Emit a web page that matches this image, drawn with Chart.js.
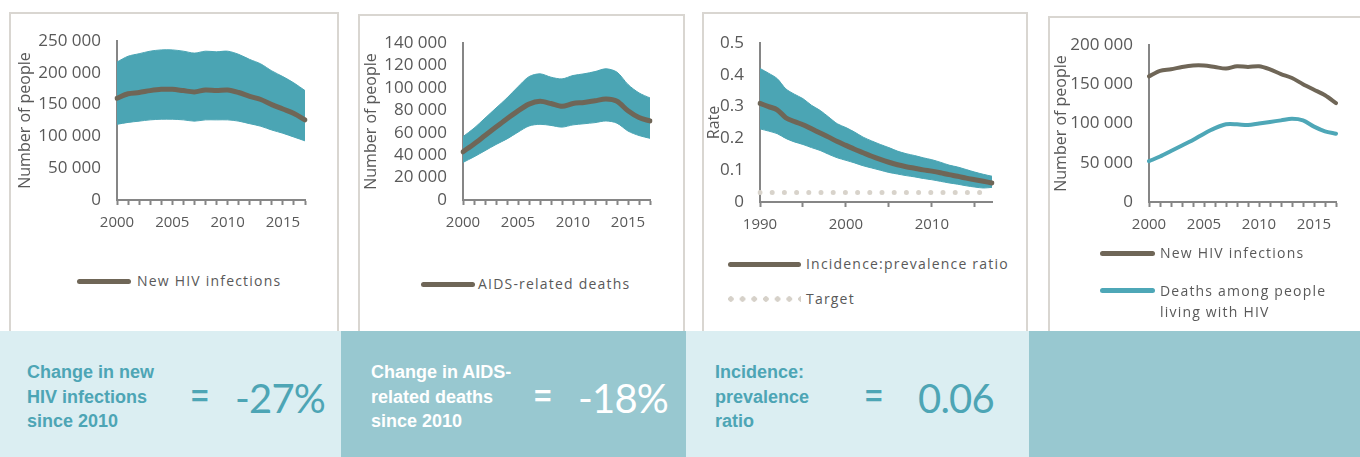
<!DOCTYPE html>
<html>
<head>
<meta charset="utf-8">
<script src="https://cdn.jsdelivr.net/npm/chart.js@4.4.0/dist/chart.umd.min.js"></script>
<style>
  body {
    margin: 0;
    width: 1360px;
    height: 457px;
    overflow: hidden;
    background: #fff;
    position: relative;
    font-family: "Open Sans", sans-serif;
  }
  .card {
    position: absolute;
    height: 340px;
    border: 2px solid #d9d6d1;
    box-sizing: border-box;
  }
  canvas.plot {
    position: absolute;
    top: 0;
  }
  .legend-item {
    position: absolute;
    display: flex;
    align-items: center;
    font-size: 14px;
    line-height: 18px;
    letter-spacing: 1.2px;
    color: #595959;
    white-space: nowrap;
  }
  .swatch {
    height: 5px;
    border-radius: 3px;
    flex: none;
  }
  .dots {
    height: 6px;
    flex: none;
    background-image: radial-gradient(circle, #d6d1c9 2.5px, transparent 3px);
    background-size: 11.7px 6px;
    background-position: -3px 0;
  }
  .strip {
    position: absolute;
    top: 331px;
    height: 126px;
  }
  .light { background: #dbeef2; color: #4da5b5; }
  .dark { background: #98c8d0; color: #fff; }
  .caption {
    position: absolute;
    top: 29px;
    font-family: "Liberation Sans", Arial, sans-serif;
    font-weight: bold;
    font-size: 18px;
    line-height: 24.5px;
    white-space: nowrap;
  }
  .equals {
    position: absolute;
    top: 50px;
    font-family: "Liberation Sans", Arial, sans-serif;
    font-weight: bold;
    font-size: 30px;
    line-height: 30px;
  }
  .figure {
    position: absolute;
    top: 45px;
    font-family: Lato, sans-serif;
    font-weight: 400;
    font-size: 40px;
    line-height: 44px;
    letter-spacing: -0.8px;
    white-space: nowrap;
  }
</style>
</head>
<body>

<div class="card" style="left:9px; top:12px; width:330px;"></div>
<div class="card" style="left:358px; top:14px; width:327px;"></div>
<div class="card" style="left:702px; top:12px; width:326px;"></div>
<div class="card" style="left:1048px; top:16px; width:330px;"></div>

<canvas id="chartInfections" class="plot" width="330" height="250" style="left:9px;"></canvas>
<canvas id="chartDeaths" class="plot" width="327" height="250" style="left:358px;"></canvas>
<canvas id="chartRatio" class="plot" width="326" height="250" style="left:702px;"></canvas>
<canvas id="chartCompare" class="plot" width="312" height="250" style="left:1048px;"></canvas>

<div class="legend-item" style="left:77px; top:272px;">
  <span class="swatch" style="width:54px; background:#6f6657; margin-right:6px;"></span>New HIV infections
</div>
<div class="legend-item" style="left:421px; top:275px;">
  <span class="swatch" style="width:54px; background:#6f6657; margin-right:3px;"></span>AIDS-related deaths
</div>
<div class="legend-item" style="left:728px; top:255px;">
  <span class="swatch" style="width:73px; background:#6f6657; margin-right:5px;"></span>Incidence:prevalence ratio
</div>
<div class="legend-item" style="left:728px; top:290px;">
  <span class="dots" style="width:73px; margin-right:5px;"></span>Target
</div>
<div class="legend-item" style="left:1100px; top:244px;">
  <span class="swatch" style="width:55px; background:#6f6657; margin-right:5px;"></span>New HIV infections
</div>
<div class="legend-item" style="left:1100px; top:280px; align-items:flex-start; line-height:21px; white-space:normal;">
  <span class="swatch" style="width:55px; background:#4ea7b7; margin-right:5px; margin-top:8px;"></span>
  <span>Deaths among people<br>living with HIV</span>
</div>

<div class="strip light" style="left:0; width:341px;">
  <div class="caption" style="left:27px;">Change in new<br>HIV infections<br>since 2010</div>
  <div class="equals" style="left:191px;">=</div>
  <div class="figure" id="figInfections" style="left:235px;"></div>
</div>
<div class="strip dark" style="left:341px; width:345px;">
  <div class="caption" style="left:30px;">Change in AIDS-<br>related deaths<br>since 2010</div>
  <div class="equals" style="left:193px;">=</div>
  <div class="figure" id="figDeaths" style="left:237px;"></div>
</div>
<div class="strip light" style="left:686px; width:343px;">
  <div class="caption" style="left:29px;">Incidence:<br>prevalence<br>ratio</div>
  <div class="equals" style="left:179px;">=</div>
  <div class="figure" id="figRatio" style="left:232px;"></div>
</div>
<div class="strip dark" style="left:1029px; width:331px;"></div>

<script>
// Yearly estimates with uncertainty bounds
const years2000 = [2000, 2001, 2002, 2003, 2004, 2005, 2006, 2007, 2008, 2009,
  2010, 2011, 2012, 2013, 2014, 2015, 2016, 2017];
const years1990 = [1990, 1991, 1992, 1993, 1994, 1995, 1996, 1997, 1998, 1999,
  2000, 2001, 2002, 2003, 2004, 2005, 2006, 2007, 2008, 2009,
  2010, 2011, 2012, 2013, 2014, 2015, 2016, 2017];

const newInfections = [160000, 167000, 169000, 172000, 174000, 174000, 172000, 170000, 173000,
  172000, 173000, 169000, 163000, 158000, 150000, 143000, 136000, 126000];
const newInfectionsHigh = [217000, 226000, 230000, 234000, 236000, 236000, 234000, 231000, 234000,
  233000, 234000, 229000, 221000, 214000, 203000, 194000, 184000, 172000];
const newInfectionsLow = [119000, 122000, 124000, 126000, 127000, 127000, 126000, 124000, 126000,
  126000, 126000, 124000, 120000, 116000, 110000, 105000, 99000, 93000];

const aidsDeaths = [43000, 50000, 57500, 65000, 72500, 79500, 85500, 88000, 86000,
  83500, 86000, 87000, 88500, 90000, 88000, 79500, 73500, 70500];
const aidsDeathsHigh = [56500, 64000, 73000, 82000, 91000, 101000, 110000, 112500, 109500,
  108000, 111000, 112500, 114500, 117000, 114000, 103000, 95500, 91000];
const aidsDeathsLow = [33500, 38500, 44000, 49500, 54500, 60500, 66000, 67500, 66500,
  65000, 67000, 68000, 69000, 70500, 68500, 61500, 57500, 55000];

const ipRatio = [0.31, 0.30, 0.29, 0.265, 0.253, 0.243, 0.23, 0.217, 0.204, 0.19,
  0.178, 0.166, 0.155, 0.144, 0.134, 0.125, 0.117, 0.111, 0.106, 0.101,
  0.097, 0.092, 0.086, 0.081, 0.075, 0.07, 0.065, 0.06];
const ipRatioHigh = [0.42, 0.405, 0.388, 0.356, 0.339, 0.325, 0.304, 0.288, 0.267, 0.246,
  0.234, 0.22, 0.204, 0.192, 0.181, 0.171, 0.16, 0.152, 0.146, 0.139,
  0.133, 0.125, 0.116, 0.11, 0.102, 0.094, 0.087, 0.081];
const ipRatioLow = [0.23, 0.223, 0.215, 0.2, 0.189, 0.181, 0.171, 0.162, 0.15, 0.139,
  0.131, 0.123, 0.114, 0.107, 0.1, 0.093, 0.088, 0.083, 0.079, 0.074,
  0.07, 0.065, 0.06, 0.056, 0.051, 0.047, 0.044, 0.046];
const ipTarget = [0.03, 0.03, 0.03, 0.03, 0.03, 0.03, 0.03, 0.03, 0.03, 0.03,
  0.03, 0.03, 0.03, 0.03, 0.03, 0.03, 0.03, 0.03, 0.03, 0.03,
  0.03, 0.03, 0.03, 0.03, 0.03, 0.03, 0.03];

const deathsAmongPLHIV = [52000, 58000, 65000, 72000, 79000, 87000, 94000, 99000, 99000,
  98000, 100000, 102000, 104000, 106000, 104000, 96000, 90000, 87000];

const BROWN = "#6f6657";
const BAND = "#4ba5b4";
const TEAL = "#4ea7b7";
const AXIS_GREY = "#868686";

Chart.defaults.font.family = "'Open Sans', sans-serif";
Chart.defaults.color = "#595959";

function formatThousands(value) {
  return String(value).replace(/\B(?=(\d{3})+(?!\d))/g, " ");
}

function yearAxis(years, labelEvery, tickEvery) {
  return {
    type: "category",
    offset: false,
    grid: {
      display: true,
      drawOnChartArea: false,
      drawTicks: true,
      tickLength: 5,
      tickWidth: 2,
      tickColor: (ctx) =>
        years[ctx.index] % tickEvery === 0 ? AXIS_GREY : "rgba(0,0,0,0)",
    },
    border: { display: true, color: AXIS_GREY, width: 2 },
    ticks: {
      autoSkip: false,
      maxRotation: 0,
      padding: 9,
      font: { size: 15 },
      callback: (value, index) =>
        years[index] % labelEvery === 0 ? String(years[index]) : "",
    },
    afterFit: (scale) => {
      scale.height = 30;
    },
  };
}

function valueAxis(max, step, title, width, titlePad, format) {
  return {
    min: 0,
    max: max,
    grid: { display: false, drawTicks: false },
    border: { display: true, color: AXIS_GREY, width: 2 },
    ticks: {
      stepSize: step,
      autoSkip: false,
      padding: 16,
      font: { size: 17 },
      callback: format,
    },
    title: {
      display: true,
      text: title,
      font: { size: 16 },
      padding: { top: titlePad, bottom: 0 },
    },
    afterFit: (scale) => {
      scale.width = width;
    },
  };
}

function lineSet(label, data, color, width) {
  return {
    label: label,
    data: data,
    borderColor: color,
    borderWidth: width,
    borderCapStyle: "round",
    borderJoinStyle: "round",
    pointRadius: 0,
    fill: false,
    tension: 0.3,
  };
}

function bandSets(high, low) {
  return [
    {
      label: "Upper bound",
      data: high,
      borderColor: BAND,
      borderWidth: 1,
      backgroundColor: BAND,
      pointRadius: 0,
      fill: "+1",
      tension: 0.3,
    },
    {
      label: "Lower bound",
      data: low,
      borderColor: BAND,
      borderWidth: 1,
      pointRadius: 0,
      fill: false,
      tension: 0.3,
    },
  ];
}

function makeChart(id, labels, datasets, xAxis, yAxis, padding) {
  return new Chart(document.getElementById(id), {
    type: "line",
    data: { labels: labels, datasets: datasets },
    options: {
      responsive: false,
      animation: false,
      layout: { padding: padding },
      plugins: { legend: { display: false }, tooltip: { enabled: false } },
      scales: { x: xAxis, y: yAxis },
    },
  });
}

makeChart(
  "chartInfections",
  years2000,
  [lineSet("New HIV infections", newInfections, BROWN, 5)].concat(
    bandSets(newInfectionsHigh, newInfectionsLow)
  ),
  yearAxis(years2000, 5, 1),
  valueAxis(250000, 50000, "Number of people", 108, 7, formatThousands),
  { left: 0, top: 41, right: 34, bottom: 20 }
);

makeChart(
  "chartDeaths",
  years2000,
  [lineSet("AIDS-related deaths", aidsDeaths, BROWN, 5)].concat(
    bandSets(aidsDeathsHigh, aidsDeathsLow)
  ),
  yearAxis(years2000, 5, 1),
  valueAxis(140000, 20000, "Number of people", 105, 4, formatThousands),
  { left: 0, top: 43, right: 35, bottom: 20 }
);

makeChart(
  "chartRatio",
  years1990,
  [
    lineSet("Incidence:prevalence ratio", ipRatio, BROWN, 5),
    {
      label: "Target",
      data: ipTarget,
      borderColor: "#d8d3cb",
      borderWidth: 5,
      borderDash: [0, 12.2],
      borderCapStyle: "round",
      pointRadius: 0,
      fill: false,
    },
  ].concat(bandSets(ipRatioHigh, ipRatioLow)),
  yearAxis(years1990, 10, 5),
  valueAxis(0.5, 0.1, "Rate", 58, 3, (v) => (v === 0 ? "0" : v.toFixed(1))),
  { left: 0, top: 43, right: 36, bottom: 18 }
);

makeChart(
  "chartCompare",
  years2000,
  [
    lineSet("New HIV infections", newInfections, BROWN, 4),
    lineSet("Deaths among people living with HIV", deathsAmongPLHIV, TEAL, 4),
  ],
  yearAxis(years2000, 5, 1),
  valueAxis(200000, 50000, "Number of people", 101, 4, formatThousands),
  { left: 0, top: 45, right: 24, bottom: 18 }
);

// Summary figures below the charts
const i2010 = years2000.indexOf(2010);
const last = years2000.length - 1;
const infectionsChange = Math.round((newInfections[last] / newInfections[i2010] - 1) * 100);
const deathsChange = Math.round((aidsDeaths[last] / aidsDeaths[i2010] - 1) * 100);

document.getElementById("figInfections").textContent = infectionsChange + "%";
document.getElementById("figDeaths").textContent = deathsChange + "%";
document.getElementById("figRatio").textContent = ipRatio[ipRatio.length - 1].toFixed(2);
</script>
</body>
</html>
